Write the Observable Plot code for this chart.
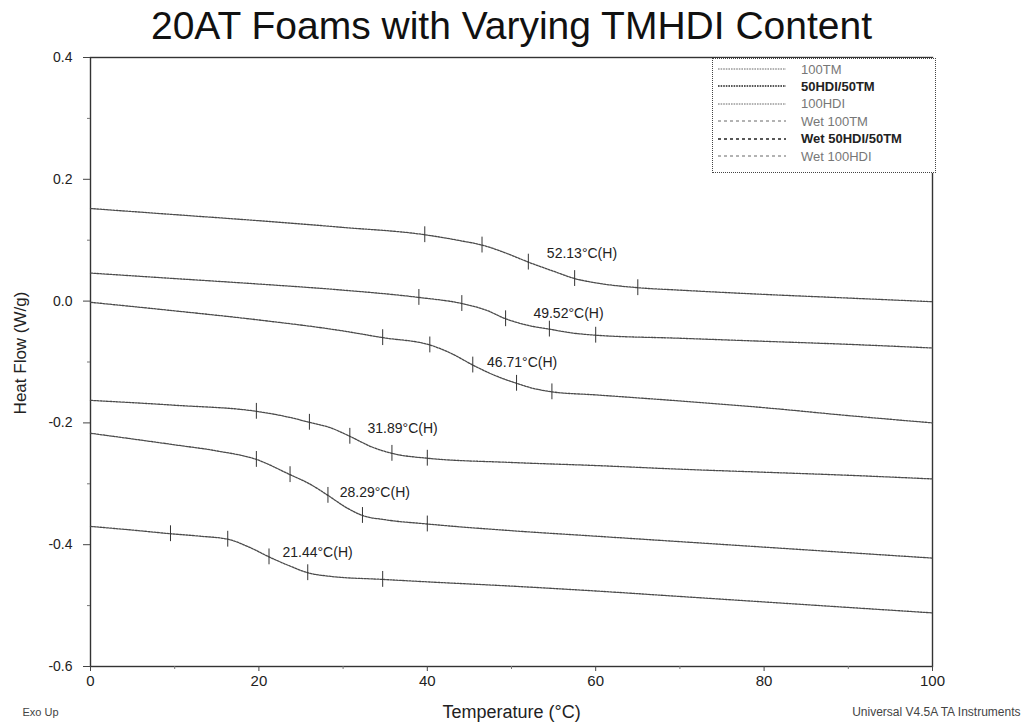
<!DOCTYPE html>
<html>
<head>
<meta charset="utf-8">
<script src="https://cdn.jsdelivr.net/npm/d3@7"></script>
<script src="https://cdn.jsdelivr.net/npm/@observablehq/plot@0.6"></script>
<style>
  body { margin: 0; background: #fff; }
  #wrap { position: relative; width: 1023px; height: 728px; font-family: "Liberation Sans", Arial, sans-serif; }
  #legend { position: absolute; left: 712px; top: 58px; width: 224px; height: 115px; border: 1px dotted #444; background: #fff; box-sizing: border-box; font-family: "Liberation Sans", Arial, sans-serif; }
  .row { position: absolute; left: 0; height: 16px; display: flex; align-items: center; font-size: 13px; color: #555; white-space: nowrap; font-family: "Liberation Sans", Arial, sans-serif; }
  .row span { font-family: "Liberation Sans", Arial, sans-serif; }
  .row svg { margin-left: 5px; margin-right: 15px; }
</style>
</head>
<body>
<div id="wrap"></div>
<script>
// ---- data ----
const seriesNames = ["100TM", "50HDI/50TM", "100HDI", "Wet 100TM", "Wet 50HDI/50TM", "Wet 100HDI"];

const c100TM = [[0,0.152],[10,0.142],[20,0.132],[30,0.121],[39.7,0.109],[44,0.099],[46.5,0.092],[49.5,0.078],[52,0.064],[55,0.049],[57.5,0.037],[60,0.030],[65,0.022],[70,0.018],[80,0.011],[90,0.005],[100,-0.001]];
const c50HDI50TM = [[0,0.046],[10,0.037],[20,0.028],[30,0.018],[39,0.006],[44.1,-0.004],[47,-0.015],[49.3,-0.029],[52,-0.040],[54.5,-0.046],[57,-0.052],[60,-0.056],[70,-0.061],[80,-0.066],[90,-0.071],[100,-0.077]];
const c100HDI = [[0,-0.002],[10,-0.016],[20,-0.031],[30,-0.049],[34.7,-0.060],[40.3,-0.072],[43,-0.087],[45.4,-0.105],[48,-0.122],[50.6,-0.135],[52.5,-0.143],[54.8,-0.149],[60,-0.154],[70,-0.164],[80,-0.175],[90,-0.188],[100,-0.200]];
const cWet100TM = [[0,-0.163],[10,-0.171],[19.7,-0.181],[23,-0.189],[26,-0.199],[28.5,-0.208],[30.8,-0.222],[33.5,-0.240],[35.8,-0.250],[40,-0.258],[50,-0.265],[60,-0.270],[70,-0.276],[80,-0.281],[90,-0.286],[100,-0.292]];
const cWet50HDI50TM = [[0,-0.217],[10,-0.236],[15,-0.246],[19.7,-0.260],[23.7,-0.285],[26,-0.300],[28.2,-0.319],[30.5,-0.340],[32.3,-0.352],[35,-0.359],[40,-0.366],[50,-0.377],[60,-0.386],[70,-0.395],[80,-0.404],[90,-0.413],[100,-0.422]];
const cWet100HDI = [[0,-0.370],[5,-0.376],[9.5,-0.382],[13,-0.386],[16.3,-0.391],[19,-0.405],[21.2,-0.420],[23.5,-0.434],[25.8,-0.446],[28.5,-0.452],[34.7,-0.457],[40,-0.461],[50,-0.468],[60,-0.476],[70,-0.485],[80,-0.494],[90,-0.503],[100,-0.512]];

const curves = [c100TM, c50HDI50TM, c100HDI, cWet100TM, cWet50HDI50TM, cWet100HDI];

// analysis tick marks (temperatures on each curve)
const ticks100TM = [39.7, 46.5, 52, 57.5, 65];
const ticks50HDI50TM = [39, 44.1, 49.3, 54.5, 60];
const ticks100HDI = [34.7, 40.3, 45.4, 50.6, 54.8];
const ticksWet100TM = [19.7, 26, 30.8, 35.8, 40];
const ticksWet50HDI50TM = [19.7, 23.7, 28.2, 32.3, 40];
const ticksWet100HDI = [9.5, 16.3, 21.2, 25.8, 34.7];
const curveTicks = [ticks100TM, ticks50HDI50TM, ticks100HDI, ticksWet100TM, ticksWet50HDI50TM, ticksWet100HDI];

// glass transition annotations
const tgLabels = ["52.13°C(H)", "49.52°C(H)", "46.71°C(H)", "31.89°C(H)", "28.29°C(H)", "21.44°C(H)"];
const tgLabelX = [54.2, 52.6, 47.1, 32.9, 29.6, 22.8];
const tgLabelY = [0.078, -0.020, -0.101, -0.209, -0.314, -0.413];

const xTicks = [0, 20, 40, 60, 80, 100];
const xMinor = [10, 30, 50, 70, 90];
const yTicks = [0.4, 0.2, 0.0, -0.2, -0.4, -0.6];
const yMinor = [0.3, 0.1, -0.1, -0.3, -0.5];

// ---- build tables ----
const lineData = curves.flatMap((c, i) => c.map(([t, h]) => ({series: seriesNames[i], t, h})));
const tickData = curves.flatMap((c, i) => c.filter(([t]) => curveTicks[i].includes(t)).map(([t, h]) => ({series: seriesNames[i], t, h})));
const labelData = tgLabels.map((s, i) => ({s, t: tgLabelX[i], h: tgLabelY[i]}));

const font = "'Liberation Sans', Arial, sans-serif";

const chart = Plot.plot({
  width: 1023,
  height: 728,
  marginLeft: 90,
  marginRight: 91,
  marginTop: 57,
  marginBottom: 62,
  style: {fontFamily: font, fontSize: "14px", background: "#fff", color: "#222"},
  x: {domain: [0, 100]},
  y: {domain: [-0.6, 0.4]},
  marks: [
    Plot.frame({stroke: "#333", strokeWidth: 1.4}),
    Plot.axisX({ticks: xTicks, tickSize: 5, tickPadding: 4, tickFormat: d => String(d), label: null, fontSize: 15, stroke: "#444"}),
    Plot.axisX({ticks: xMinor, tickSize: 3, tickFormat: () => "", label: null, stroke: "#777"}),
    Plot.axisY({ticks: yTicks, tickSize: 7, tickPadding: 11, tickFormat: d => d.toFixed(1), label: null, fontSize: 14, stroke: "#444"}),
    Plot.axisY({ticks: yMinor, tickSize: 3, tickFormat: () => "", label: null, stroke: "#777"}),
    Plot.line(lineData, {x: "t", y: "h", z: "series", stroke: "#4a4a4a", strokeWidth: 1.3, strokeDasharray: "2,1.2", curve: "monotone-x"}),
    Plot.ruleX(tickData, {x: "t", y1: d => d.h - 0.013, y2: d => d.h + 0.013, stroke: "#333", strokeWidth: 1}),
    Plot.text(labelData, {x: "t", y: "h", text: "s", textAnchor: "start", lineAnchor: "middle", fontSize: 14, fill: "#222"}),
    Plot.text(["20AT Foams with Varying TMHDI Content"], {frameAnchor: "top", lineAnchor: "middle", dy: -31, fontSize: 39, fill: "#111"}),
    Plot.text(["Temperature (°C)"], {frameAnchor: "bottom", lineAnchor: "middle", dy: 46, fontSize: 18, fill: "#222"}),
    Plot.text(["Heat Flow (W/g)"], {frameAnchor: "left", textAnchor: "middle", lineAnchor: "middle", dx: -70, dy: -9, rotate: -90, fontSize: 17, fill: "#222"}),
    Plot.text(["Exo Up"], {frameAnchor: "bottom-left", lineAnchor: "middle", dx: -68, dy: 46, textAnchor: "start", fontSize: 11, fill: "#444"}),
    Plot.text(["Universal V4.5A TA Instruments"], {frameAnchor: "bottom-right", lineAnchor: "middle", dx: 88, dy: 46, textAnchor: "end", fontSize: 12, fill: "#444"})
  ]
});

const wrap = document.getElementById("wrap");
wrap.appendChild(chart);

// legend
const legendDash = ["1.6,1", "1.6,1", "1.6,1", "3,3", "3,3", "3,3"];
const legendBold = [false, true, false, false, true, false];
const legend = d3.select(wrap).append("div").attr("id", "legend");
seriesNames.forEach((name, i) => {
  const row = legend.append("div").attr("class", "row").style("top", (2 + i * 17.4) + "px");
  const svg = row.append("svg").attr("width", 68).attr("height", 6);
  svg.append("line").attr("x1", 0).attr("x2", 68).attr("y1", 3).attr("y2", 3)
    .attr("stroke", legendBold[i] ? "#222" : "#666").attr("stroke-width", legendBold[i] ? 1.4 : 1)
    .attr("stroke-dasharray", legendDash[i]);
  row.append("span").text(name).style("color", legendBold[i] ? "#222" : "#777").style("font-weight", legendBold[i] ? "bold" : "normal");
});
</script>
</body>
</html>
